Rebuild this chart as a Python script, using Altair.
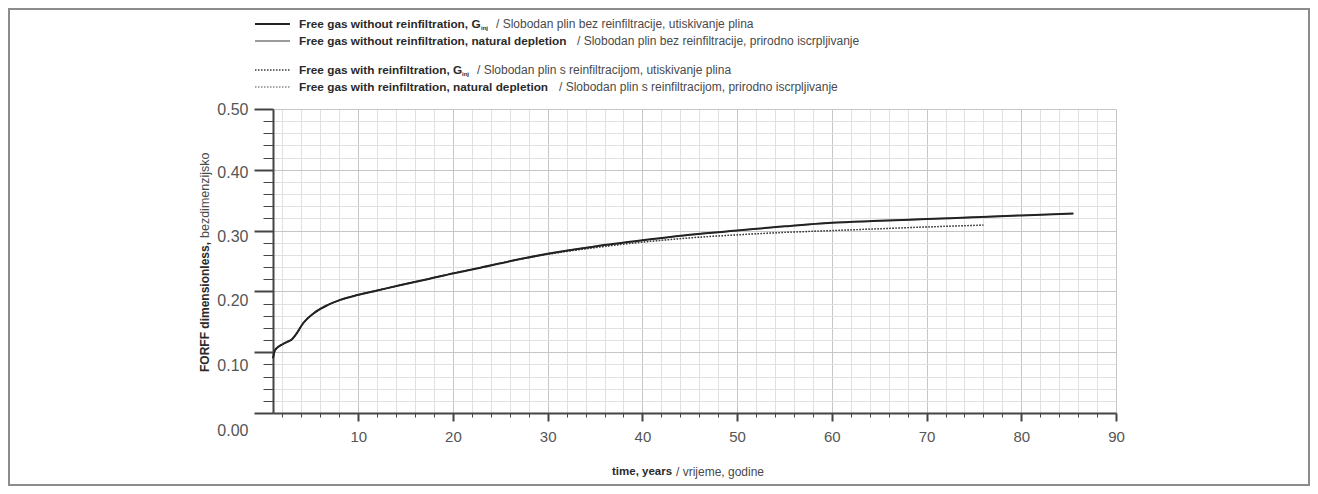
import altair as alt
import pandas as pd

# ---------------- data ----------------
years_no_reinf = [1.0, 1.2, 1.5, 2.0, 2.5, 2.9, 3.5, 4.2, 5.3, 6.7, 8.1, 9.9, 12.0, 14.5,
                  17.3, 20.1, 22.9, 26.1, 30.0, 35.0, 40.0, 45.0, 50.0, 55.0, 60.0, 65.0,
                  70.0, 75.0, 80.0, 85.5]
forff_ginj_no_reinf = [0.090, 0.103, 0.108, 0.113, 0.117, 0.120, 0.131, 0.148, 0.164, 0.177,
                       0.186, 0.194, 0.2015, 0.2105, 0.220, 0.230, 0.239, 0.250, 0.262, 0.274,
                       0.284, 0.293, 0.300, 0.307, 0.313, 0.316, 0.319, 0.322, 0.325, 0.328]
forff_nat_no_reinf = [0.090, 0.103, 0.108, 0.113, 0.117, 0.120, 0.131, 0.148, 0.164, 0.177,
                      0.186, 0.194, 0.2015, 0.2105, 0.220, 0.230, 0.239, 0.250, 0.262, 0.274,
                      0.284, 0.293, 0.300, 0.307, 0.313, 0.316, 0.319, 0.322, 0.325, 0.328]

years_reinf = [1.0, 1.2, 1.5, 2.0, 2.5, 2.9, 3.5, 4.2, 5.3, 6.7, 8.1, 9.9, 12.0, 14.5,
               17.3, 20.1, 22.9, 26.1, 30.0, 35.0, 40.0, 45.0, 50.0, 55.0, 60.0, 65.0,
               70.0, 76.0]
forff_ginj_reinf = [0.090, 0.103, 0.108, 0.113, 0.117, 0.120, 0.131, 0.148, 0.164, 0.177,
                    0.186, 0.194, 0.2015, 0.2105, 0.220, 0.230, 0.239, 0.250, 0.261, 0.272,
                    0.281, 0.288, 0.293, 0.297, 0.300, 0.303, 0.306, 0.309]
forff_nat_reinf = [0.090, 0.103, 0.108, 0.113, 0.117, 0.120, 0.131, 0.148, 0.164, 0.177,
                   0.186, 0.194, 0.2015, 0.2105, 0.220, 0.230, 0.239, 0.250, 0.261, 0.272,
                   0.281, 0.288, 0.293, 0.297, 0.300, 0.303, 0.306, 0.309]

x_tick_values = list(range(2, 91, 2))
y_tick_values = [round(i * 0.02, 2) for i in range(0, 26)]

legend_bold = [
    "Free gas without reinfiltration, G",
    "Free gas without reinfiltration, natural depletion",
    "Free gas with reinfiltration, G",
    "Free gas with reinfiltration, natural depletion",
]
legend_sub = ["inj", "", "inj", ""]
legend_normal = [
    "/  Slobodan plin bez reinfiltracije, utiskivanje plina",
    "/  Slobodan plin bez reinfiltracije, prirodno iscrpljivanje",
    "/  Slobodan plin s reinfiltracijom, utiskivanje plina",
    "/  Slobodan plin s reinfiltracijom, prirodno iscrpljivanje",
]
x_title_bold = "time, years"
x_title_normal = "/ vrijeme, godine"
y_title_bold = "FORFF dimensionless,"
y_title_normal = "bezdimenzijsko"

# ---------------- table ----------------
frames = []
for name, xs, ys in [
    ("nat_no", years_no_reinf, forff_nat_no_reinf),
    ("ginj_no", years_no_reinf, forff_ginj_no_reinf),
    ("nat_re", years_reinf, forff_nat_reinf),
    ("ginj_re", years_reinf, forff_ginj_reinf),
]:
    frames.append(pd.DataFrame({"series": name, "year": xs, "forff": ys}))
df = pd.concat(frames, ignore_index=True)

# ---------------- styling ----------------
FONT = "Liberation Sans, Arial, sans-serif"
W, H = 843, 304
PAD = {"left": 265, "top": 101, "right": 194, "bottom": 73}

x_major = "datum.value % 10 === 0"
y_major = "abs(datum.value * 10 - round(datum.value * 10)) < 0.001"

x_axis = alt.Axis(
    values=x_tick_values,
    title=None,
    labelExpr=f"{x_major} ? datum.label : ''",
    format="d",
    labelFont=FONT,
    labelFontSize=15,
    labelColor="#555555",
    labelPadding=8,
    labelOverlap=False,
    labelFlush=False,
    grid=True,
    gridColor={"condition": {"test": x_major, "value": "#c6c6c6"}, "value": "#e0e0e0"},
    gridWidth=1,
    ticks=True,
    tickColor="#444444",
    tickSize={"condition": {"test": x_major, "value": 8}, "value": 4},
    tickWidth={"condition": {"test": x_major, "value": 2}, "value": 1},
    domainColor="#444444",
    domainWidth=2,
)
y_axis = alt.Axis(
    values=y_tick_values,
    title=None,
    labelExpr=f"{y_major} ? format(datum.value, '.2f') : ''",
    labelFont=FONT,
    labelFontSize=16,
    labelColor="#555555",
    labelPadding=6,
    labelOverlap=False,
    labelFlush=False,
    labelOffset={"condition": [
        {"test": "datum.value < 0.05", "value": 17},
        {"test": "datum.value < 0.15", "value": 13},
        {"test": "datum.value < 0.25", "value": 9},
        {"test": "datum.value < 0.35", "value": 6},
        {"test": "datum.value < 0.45", "value": 3},
    ], "value": 0},
    grid=True,
    gridColor={"condition": {"test": y_major, "value": "#c6c6c6"}, "value": "#e0e0e0"},
    gridWidth=1,
    ticks=True,
    tickColor="#444444",
    tickSize={"condition": {"test": y_major, "value": 19}, "value": 10},
    tickWidth={"condition": {"test": y_major, "value": 2}, "value": 1},
    domainColor="#444444",
    domainWidth=2,
)

X = alt.X("year:Q", scale=alt.Scale(domain=[1, 90], nice=False, zero=False), axis=x_axis)
Y = alt.Y("forff:Q", scale=alt.Scale(domain=[0, 0.5], nice=False), axis=y_axis)

styles = {
    "nat_no": dict(color="#7a7a7a", strokeWidth=1.4),
    "nat_re": dict(color="#8a8a8a", strokeWidth=1.3, strokeDash=[1.5, 1.5]),
    "ginj_re": dict(color="#3a3a3a", strokeWidth=1.4, strokeDash=[1.5, 1.5]),
    "ginj_no": dict(color="#222222", strokeWidth=2.0),
}

layers = []
for s in ["nat_no", "nat_re", "ginj_re", "ginj_no"]:
    layers.append(
        alt.Chart(df)
        .transform_filter(alt.datum.series == s)
        .mark_line(interpolate="monotone", **styles[s])
        .encode(x=X, y=Y)
    )

one = pd.DataFrame({"k": [0]})

# frame around the whole figure
layers.append(
    alt.Chart(one).mark_rect(fillOpacity=0, stroke="#8c8c8c", strokeWidth=2).encode(
        x=alt.value(-PAD["left"] + 1), x2=alt.value(W + PAD["right"] - 1),
        y=alt.value(-PAD["top"] + 1), y2=alt.value(H + PAD["bottom"] - 1),
    )
)


def text_layer(t, x, y, size, bold=False, angle=None):
    kw = dict(font=FONT, fontSize=size, color="#2a2a2a" if bold else "#4a4a4a",
              align="left", baseline="middle")
    if bold:
        kw["fontWeight"] = "bold"
    if angle is not None:
        kw["angle"] = angle
    return alt.Chart(pd.DataFrame({"t": [t]})).mark_text(**kw).encode(
        text="t:N", x=alt.value(x), y=alt.value(y)
    )


# legend
row_y = [-85, -68, -39, -22]
sym_style = [styles["ginj_no"], styles["nat_no"], styles["ginj_re"], styles["nat_re"]]
sub_x = [208, None, 189, None]
normal_x = [223, 304, 204, 286]
for i in range(4):
    layers.append(
        alt.Chart(one).mark_rule(**sym_style[i]).encode(
            x=alt.value(-18), x2=alt.value(17), y=alt.value(row_y[i])
        )
    )
    layers.append(text_layer(legend_bold[i], 26, row_y[i], 11.8, bold=True))
    if legend_sub[i]:
        layers.append(text_layer(legend_sub[i], sub_x[i], row_y[i] + 4, 6, bold=True))
    layers.append(text_layer(legend_normal[i], normal_x[i], row_y[i], 12))

# x title
layers.append(text_layer(x_title_bold, 339, 363, 11.5, bold=True))
layers.append(text_layer(x_title_normal, 403, 363, 12))
# y title
layers.append(text_layer(y_title_bold, -68, 263, 12, bold=True, angle=270))
layers.append(text_layer(y_title_normal, -68, 129, 12.5, angle=270))

chart = (
    alt.layer(*layers)
    .properties(width=W, height=H, padding=PAD, autosize=alt.AutoSizeParams(type="none"))
    .configure_view(stroke="transparent")
    .configure(background="white")
)

chart.save("out.html", embed_options={"renderer": "svg", "actions": False})
